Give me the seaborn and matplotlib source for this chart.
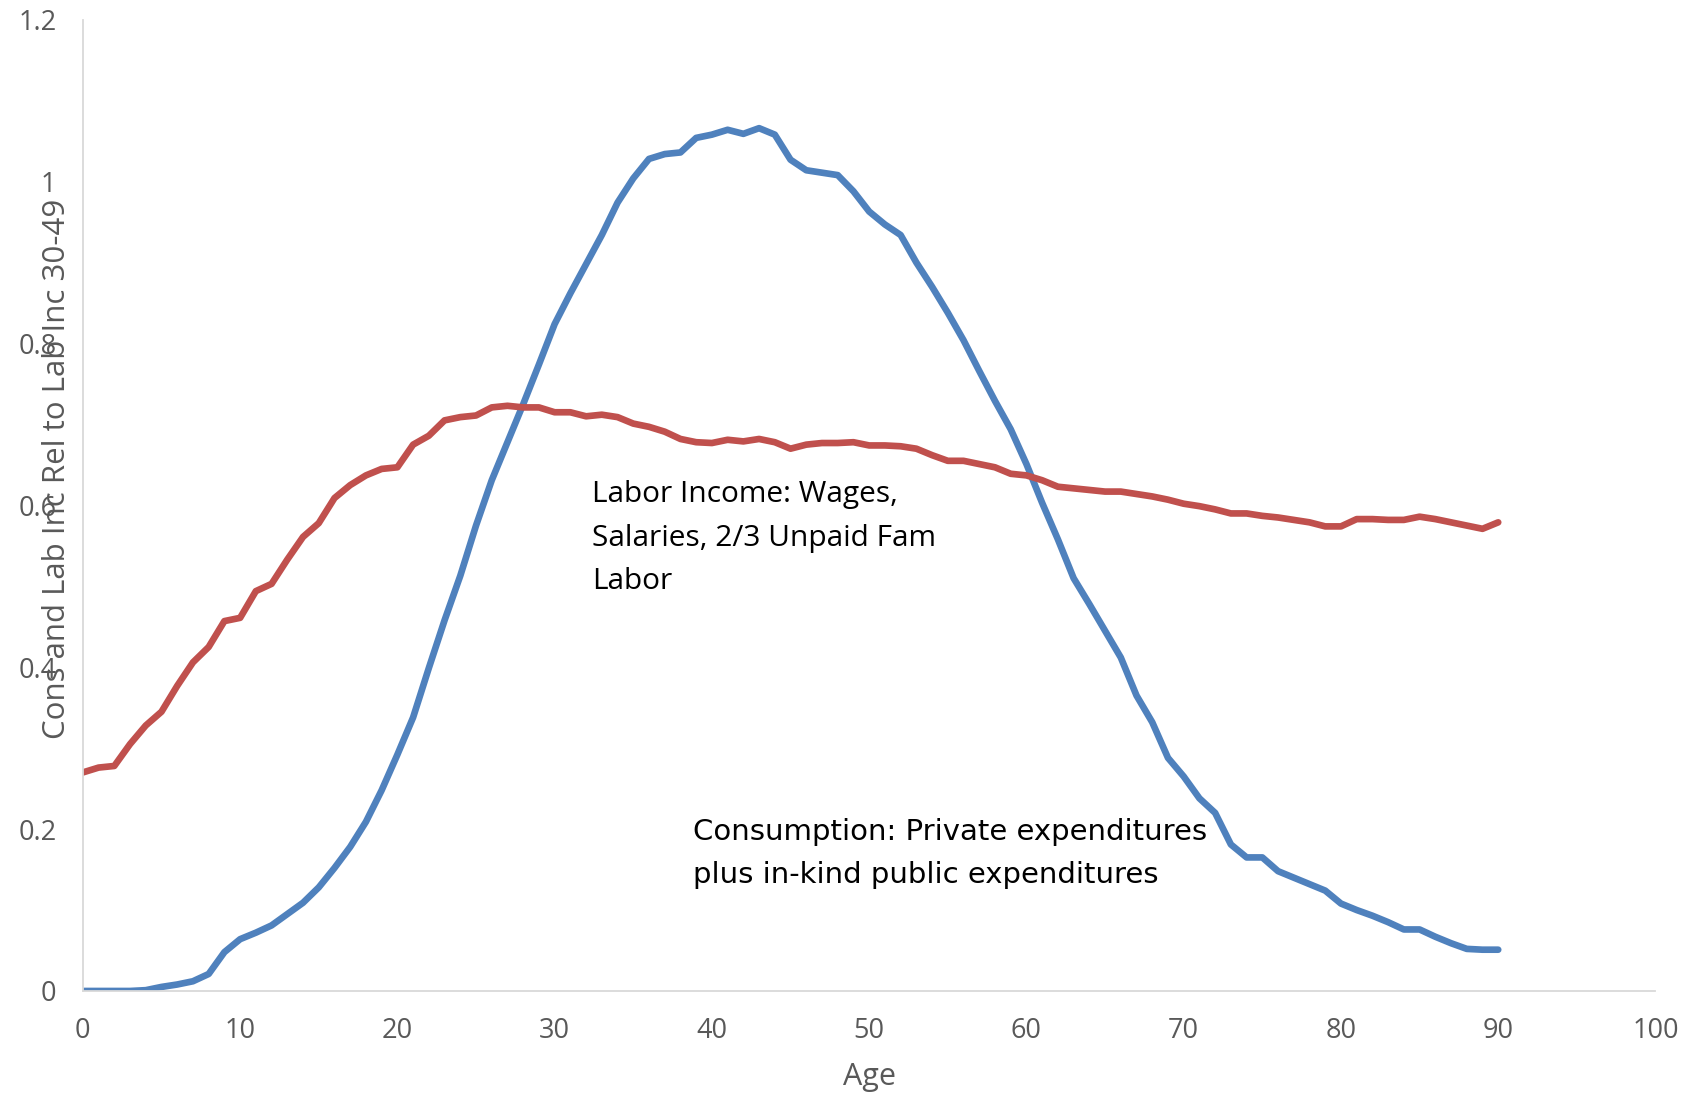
import numpy as np
import pandas as pd
import seaborn as sns
import matplotlib.pyplot as plt

# dados (idade 0..90)
ages = list(range(0, 91))

lab_inc = [0.000, 0.000, 0.000, 0.000, 0.001, 0.005, 0.008, 0.012, 0.021, 0.048,
           0.064, 0.072, 0.081, 0.095, 0.109, 0.128, 0.152, 0.178, 0.209, 0.248,
           0.292, 0.338, 0.399, 0.458, 0.513, 0.575, 0.631, 0.678, 0.725, 0.774,
           0.824, 0.862, 0.898, 0.934, 0.974, 1.004, 1.028, 1.034, 1.036, 1.054,
           1.058, 1.064, 1.059, 1.066, 1.058, 1.027, 1.014, 1.011, 1.008, 0.988,
           0.963, 0.947, 0.934, 0.900, 0.870, 0.838, 0.804, 0.766, 0.729, 0.694,
           0.651, 0.603, 0.558, 0.510, 0.478, 0.445, 0.412, 0.365, 0.332, 0.288,
           0.265, 0.238, 0.220, 0.181, 0.165, 0.165, 0.148, 0.140, 0.132, 0.124,
           0.108, 0.100, 0.093, 0.085, 0.076, 0.076, 0.067, 0.059, 0.052, 0.051,
           0.051]

cons = [0.270, 0.276, 0.278, 0.305, 0.328, 0.345, 0.377, 0.406, 0.425, 0.457,
        0.461, 0.494, 0.503, 0.533, 0.561, 0.578, 0.609, 0.625, 0.637, 0.645,
        0.647, 0.675, 0.686, 0.705, 0.709, 0.711, 0.721, 0.723, 0.721, 0.721,
        0.715, 0.715, 0.710, 0.712, 0.709, 0.701, 0.697, 0.691, 0.682, 0.678,
        0.677, 0.681, 0.679, 0.682, 0.678, 0.670, 0.675, 0.677, 0.677, 0.678,
        0.674, 0.674, 0.673, 0.670, 0.662, 0.655, 0.655, 0.651, 0.647, 0.639,
        0.637, 0.631, 0.623, 0.621, 0.619, 0.617, 0.617, 0.614, 0.611, 0.607,
        0.602, 0.599, 0.595, 0.590, 0.590, 0.587, 0.585, 0.582, 0.579, 0.574,
        0.574, 0.583, 0.583, 0.582, 0.582, 0.586, 0.583, 0.579, 0.575, 0.571,
        0.579]

x_ticks = [0, 10, 20, 30, 40, 50, 60, 70, 80, 90, 100]
y_ticks = [0, 0.2, 0.4, 0.6, 0.8, 1.0, 1.2]
y_tick_labels = ['0', '0.2', '0.4', '0.6', '0.8', '1', '1.2']

df = pd.DataFrame({'age': ages, 'lab_inc': lab_inc, 'cons': cons})

sns.set_style('white')
plt.rcParams['font.family'] = ['Open Sans', 'DejaVu Sans']

fig = plt.figure(figsize=(16.91, 10.95), dpi=100)
ax = fig.add_axes([0.049, 0.095, 0.930, 0.887])

sns.lineplot(data=df, x='age', y='lab_inc', ax=ax, color='#4F81BD', linewidth=4.8)
sns.lineplot(data=df, x='age', y='cons', ax=ax, color='#C0504D', linewidth=4.8)

ax.set_xlim(0, 100)
ax.set_ylim(0, 1.2)
ax.set_xticks(x_ticks)
ax.set_yticks(y_ticks)
ax.set_yticklabels(y_tick_labels)

for s in ['top', 'right']:
    ax.spines[s].set_visible(False)
for s in ['left', 'bottom']:
    ax.spines[s].set_color('#D9D9D9')
    ax.spines[s].set_linewidth(1.3)

ax.tick_params(axis='x', direction='in', length=8, width=1.3, color='#D9D9D9',
               labelsize=19.5, labelcolor='#595959', pad=19)
ax.tick_params(axis='y', length=0, labelsize=19.5, labelcolor='#595959', pad=19)

ax.set_xlabel('Age', fontsize=22, color='#595959', labelpad=12)
ax.set_ylabel('')
# o rotulo do eixo y fica por cima dos numeros, como no original
fig.text(0.034, 0.572, 'Cons and Lab Inc Rel to Lab Inc 30-49', rotation=90,
         fontsize=22.5, color='#595959', ha='center', va='center')

ax.text(32.4, 0.631, 'Labor Income: Wages,\nSalaries, 2/3 Unpaid Fam\nLabor',
        fontsize=21.5, color='black', ha='left', va='top', linespacing=1.65)
ax.text(38.8, 0.214, 'Consumption: Private expenditures\nplus in-kind public expenditures',
        fontsize=21, color='black', ha='left', va='top', linespacing=1.68,
        family='DejaVu Sans')

fig.savefig('out.png', dpi=100)
